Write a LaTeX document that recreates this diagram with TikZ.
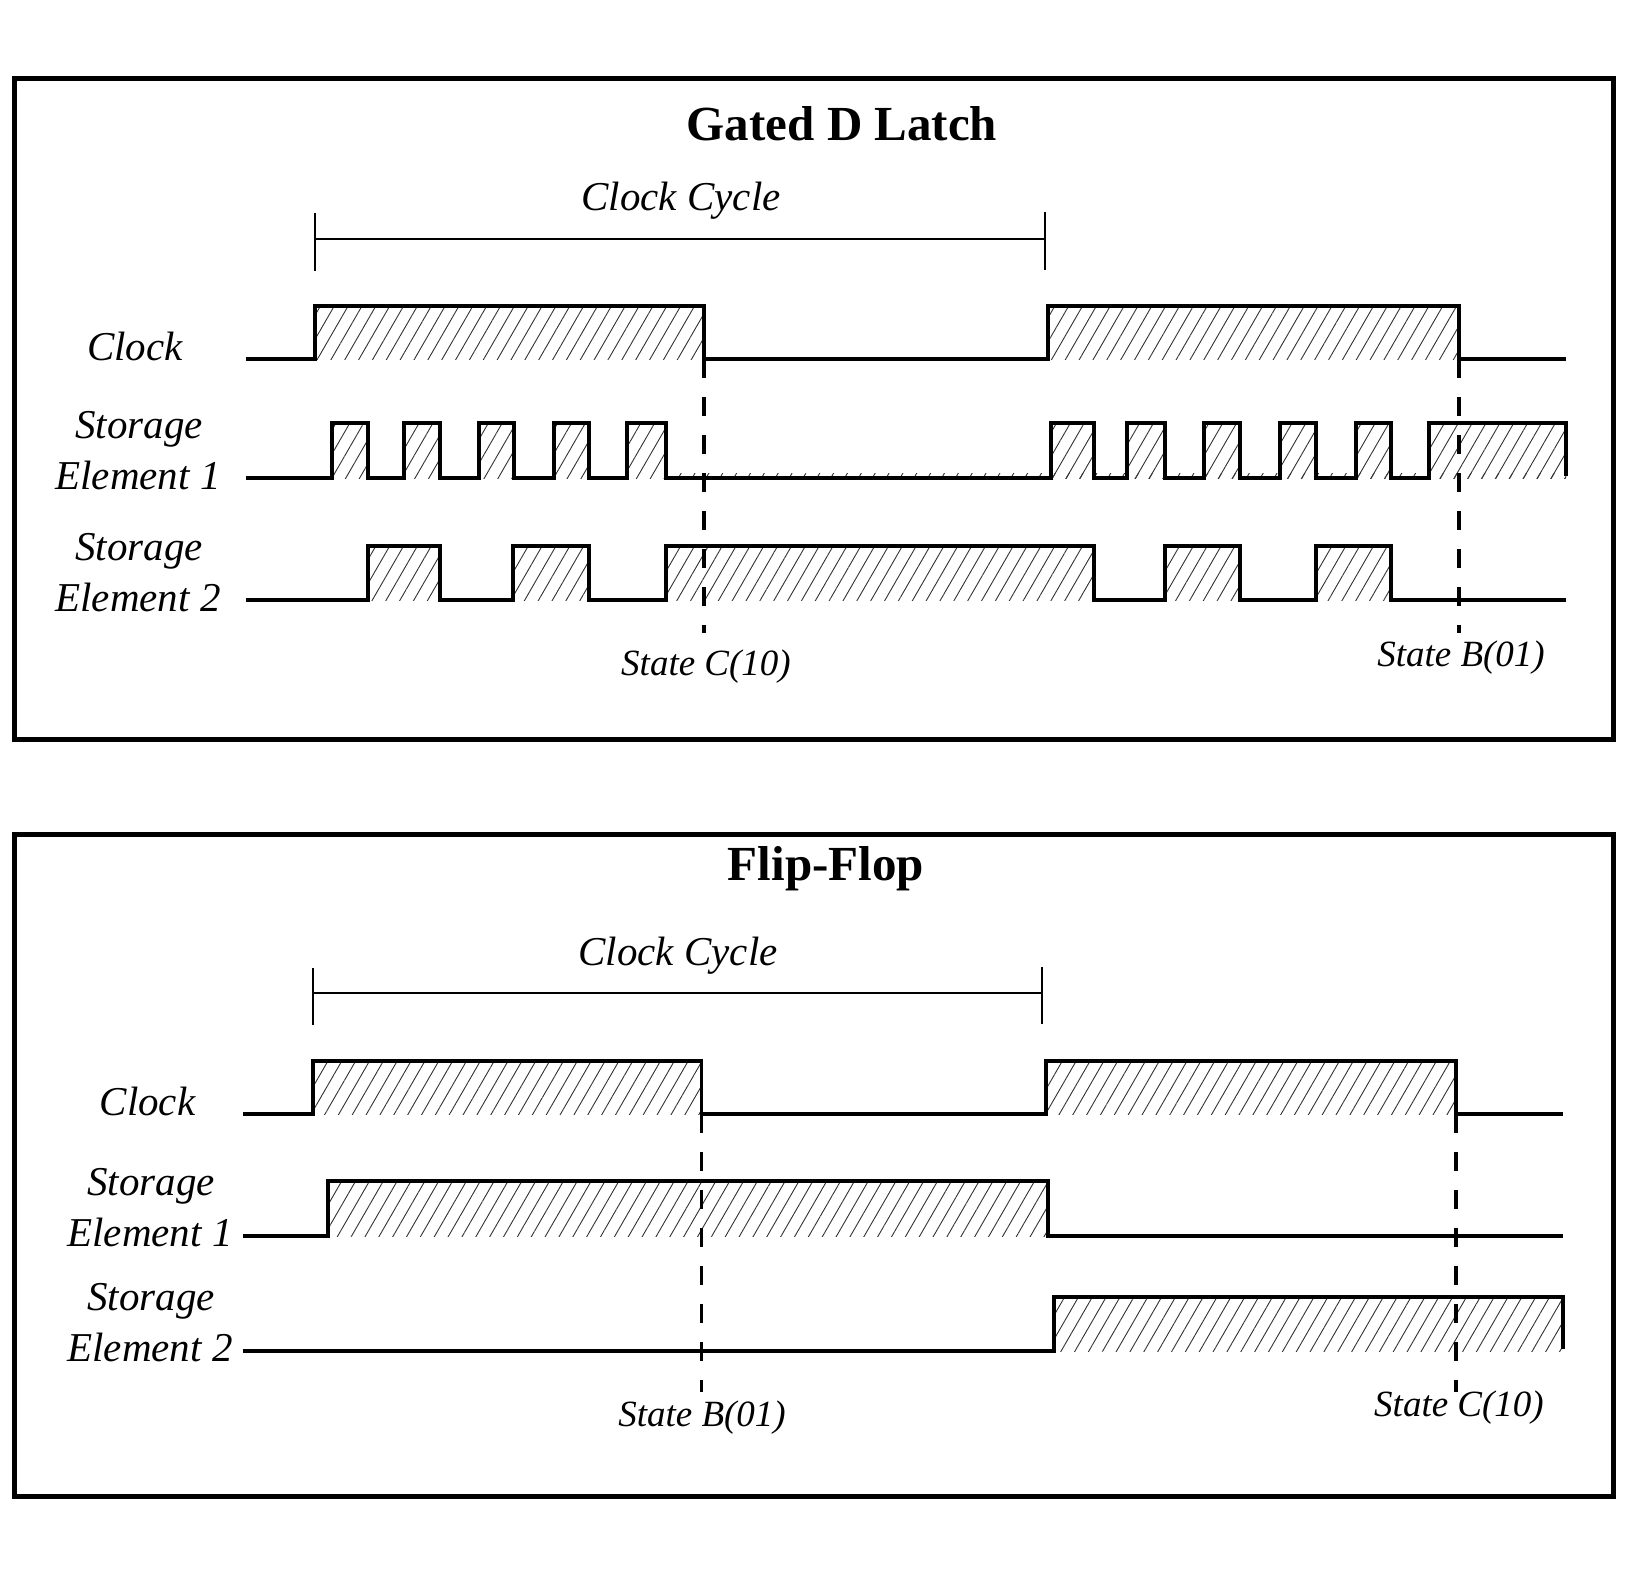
\documentclass[tikz,border=0pt]{standalone}
\usepackage{fontspec}
\setmainfont{Liberation Serif}
\usetikzlibrary{patterns.meta}
\tikzset{
  wave/.style={line width=3.2pt, line cap=butt, line join=miter},
  hatch/.style={pattern={Lines[angle=60,distance=12pt,line width=0.9pt]}, pattern color=black!80},
  framebox/.style={line width=5pt},
  lab/.style={font=\fontsize{41}{48}\selectfont\itshape, inner sep=0pt, anchor=base},
  stlab/.style={font=\fontsize{37}{44}\selectfont\itshape, inner sep=0pt, anchor=base},
  ttl/.style={font=\fontsize{49}{58}\selectfont\bfseries, inner sep=0pt, anchor=base},
  marker/.style={line width=3.3pt, dash pattern=on 19pt off 19pt},
  cycbar/.style={line width=2.4pt},
  cyctick/.style={line width=2pt}
}
\begin{document}
\begin{tikzpicture}[x=1pt,y=-1pt]
\useasboundingbox (0,0) rectangle (1625,1581);
\fill[white] (0,0) rectangle (1625,1581);

%% ================= Panel 1: Gated D Latch =================
\draw[framebox] (14,79) rectangle (1613,739);
\node[ttl] (t1) at (842,140.5) {Gated D Latch};
\node[lab] (cc1) at (681,210.5) {Clock Cycle};
\coordinate (c1a) at (315,239);
\coordinate (c1b) at (1045,239);
\draw[cycbar] (c1a) -- (c1b);
\draw[cyctick] (315,213) -- (315,271);
\draw[cyctick] (1045,212) -- (1045,270);

% labels
\node[lab] (clk1) at (135,360) {Clock};
\node[lab] (s1a) at (139,438) {Storage};
\node[lab] (s1b) at (138,489) {Element 1};
\node[lab] (s2a) at (139,560) {Storage};
\node[lab] (s2b) at (138,611.5) {Element 2};

% clock
\fill[hatch] (315,306) rectangle (704,359);
\fill[hatch] (1048,306) rectangle (1459,359);
\draw[wave] (246,359) -- (315,359) -- (315,306) -- (704,306) -- (704,359)
  -- (1048,359) -- (1048,306) -- (1459,306) -- (1459,359) -- (1566,359);

% storage element 1
\fill[hatch] (666,473.5) rectangle (1566,478);
\foreach \a/\b in {332/368,404/440,479/514,554/589,627/666,1051/1094,1127/1165,1204/1240,1280/1316,1356/1391}
  \fill[hatch] (\a,423) rectangle (\b,478);
\fill[hatch] (1429,423) rectangle (1566,478);
\draw[wave] (246,478)
  foreach \a/\b in {332/368,404/440,479/514,554/589,627/666,1051/1094,1127/1165,1204/1240,1280/1316,1356/1391}
    { -- (\a,478) -- (\a,423) -- (\b,423) -- (\b,478) }
  -- (1429,478) -- (1429,423) -- (1566,423) -- (1566,476);

% storage element 2
\foreach \a/\b in {368/440,513/589,666/1094,1165/1240,1316/1391}
  \fill[hatch] (\a,546) rectangle (\b,600);
\draw[wave] (246,600)
  foreach \a/\b in {368/440,513/589,666/1094,1165/1240,1316/1391}
    { -- (\a,600) -- (\a,546) -- (\b,546) -- (\b,600) }
  -- (1566,600);

% state markers
\coordinate (m1a) at (704,359);
\coordinate (m1b) at (704,633);
\coordinate (m2a) at (1459,359);
\coordinate (m2b) at (1459,633);
\draw[marker] (m1a) -- (m1b);
\draw[marker] (m2a) -- (m2b);
\node[stlab] (sc1) at (706,675) {State C(10)};
\node[stlab] (sb1) at (1461,666.5) {State B(01)};

%% ================= Panel 2: Flip-Flop =================
\draw[framebox] (14,834) rectangle (1613,1496);
\node[ttl] (t2) at (826,880) {Flip-Flop};
\node[lab] (cc2) at (678,965) {Clock Cycle};
\coordinate (c2a) at (313,993);
\coordinate (c2b) at (1042,993);
\draw[cycbar] (c2a) -- (c2b);
\draw[cyctick] (313,968) -- (313,1025);
\draw[cyctick] (1042,967) -- (1042,1024);

% labels
\node[lab] (clk2) at (147.5,1115) {Clock};
\node[lab] (f1a) at (151,1195) {Storage};
\node[lab] (f1b) at (150,1246.5) {Element 1};
\node[lab] (f2a) at (151,1310) {Storage};
\node[lab] (f2b) at (150,1361.5) {Element 2};

% clock
\fill[hatch] (313,1061) rectangle (701.5,1114);
\fill[hatch] (1046,1061) rectangle (1456,1114);
\draw[wave] (243,1114) -- (313,1114) -- (313,1061) -- (701.5,1061) -- (701.5,1114)
  -- (1046,1114) -- (1046,1061) -- (1456,1061) -- (1456,1114) -- (1563,1114);

% storage element 1
\fill[hatch] (328,1181) rectangle (1048,1236);
\draw[wave] (243,1236) -- (328,1236) -- (328,1181) -- (1048,1181) -- (1048,1236) -- (1563,1236);

% storage element 2
\fill[hatch] (1054,1297) rectangle (1563,1351);
\draw[wave] (243,1351) -- (1054,1351) -- (1054,1297) -- (1563,1297) -- (1563,1349);

% state markers
\coordinate (m3a) at (701.5,1114);
\coordinate (m3b) at (701.5,1392);
\coordinate (m4a) at (1456,1114);
\coordinate (m4b) at (1456,1392);
\draw[marker] (m3a) -- (m3b);
\draw[marker] (m4a) -- (m4b);
\node[stlab] (sb2) at (702,1426.5) {State B(01)};
\node[stlab] (sc2) at (1459,1416.5) {State C(10)};
\end{tikzpicture}
\end{document}
